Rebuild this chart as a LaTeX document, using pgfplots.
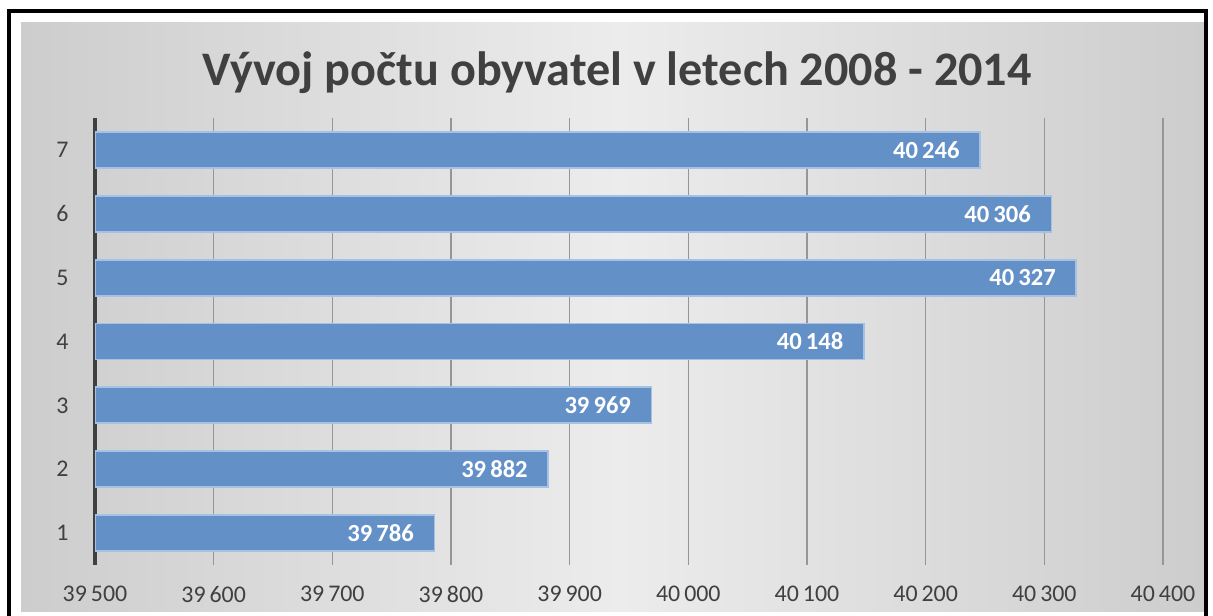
\documentclass[border=0pt]{standalone}
\usepackage{pgfplots}
\pgfplotsset{compat=1.18}
\usepackage{fontspec}
\setmainfont{Carlito}
\definecolor{barblue}{RGB}{98,144,199}
\definecolor{baredge}{RGB}{165,193,228}
\definecolor{txtgray}{RGB}{64,64,64}
\definecolor{gridgray}{RGB}{150,150,150}
\definecolor{bgedge}{RGB}{205,205,205}
\definecolor{bgmid}{RGB}{236,236,236}
\begin{document}
\begin{tikzpicture}[x=1cm,y=1cm]
\useasboundingbox (0,0) rectangle (12.13,6.16);
\fill[white] (0,0) rectangle (12.13,6.16);
% chart area with a soft grey gradient, in two halves
\shade[left color=bgedge, right color=bgmid] (0.21,0.04) rectangle (6.2,5.93);
\shade[left color=bgmid, right color=bgedge] (6.2,0.04) rectangle (12.04,5.93);
\draw[line width=1.2pt] (0.09,0) -- (0.09,6.05) -- (12.06,6.05) -- (12.06,0);
\node[font=\fontsize{13.7}{16}\selectfont\bfseries, text=txtgray] at (6.17,5.43) {Vývoj počtu obyvatel v letech 2008 - 2014};
\begin{axis}[
    at={(0.95cm,0.51cm)}, anchor=south west,
    scale only axis,
    width=10.68cm, height=4.47cm,
    xbar, bar width=0.36cm,
    xmin=39500, xmax=40400,
    ymin=0.5, ymax=7.5,
    xtick={39500,39600,...,40400},
    ytick={1,...,7},
    scaled x ticks=false,
    xmajorgrids,
    major grid style={color=gridgray, line width=0.4pt},
    major tick length=0pt,
    axis x line*=bottom, axis y line*=left,
    x axis line style={draw=none},
    y axis line style={draw=txtgray, line width=1pt, -},
    /pgf/number format/assume math mode=true,
    /pgf/number format/1000 sep={\,},
    ticklabel style={font=\fontsize{6.8}{8}\selectfont, text=txtgray},
    xticklabel style={yshift=-2.5pt},
    yticklabel style={xshift=-4pt},
    nodes near coords,
    nodes near coords style={anchor=east, xshift=-0.08cm, text=white,
        font=\fontsize{7}{8}\selectfont\bfseries},
]
\addplot[fill=barblue, draw=baredge, line width=0.5pt] coordinates {
    (39786,1) (39882,2) (39969,3) (40148,4) (40327,5) (40306,6) (40246,7)
};
\end{axis}
\end{tikzpicture}
\end{document}
